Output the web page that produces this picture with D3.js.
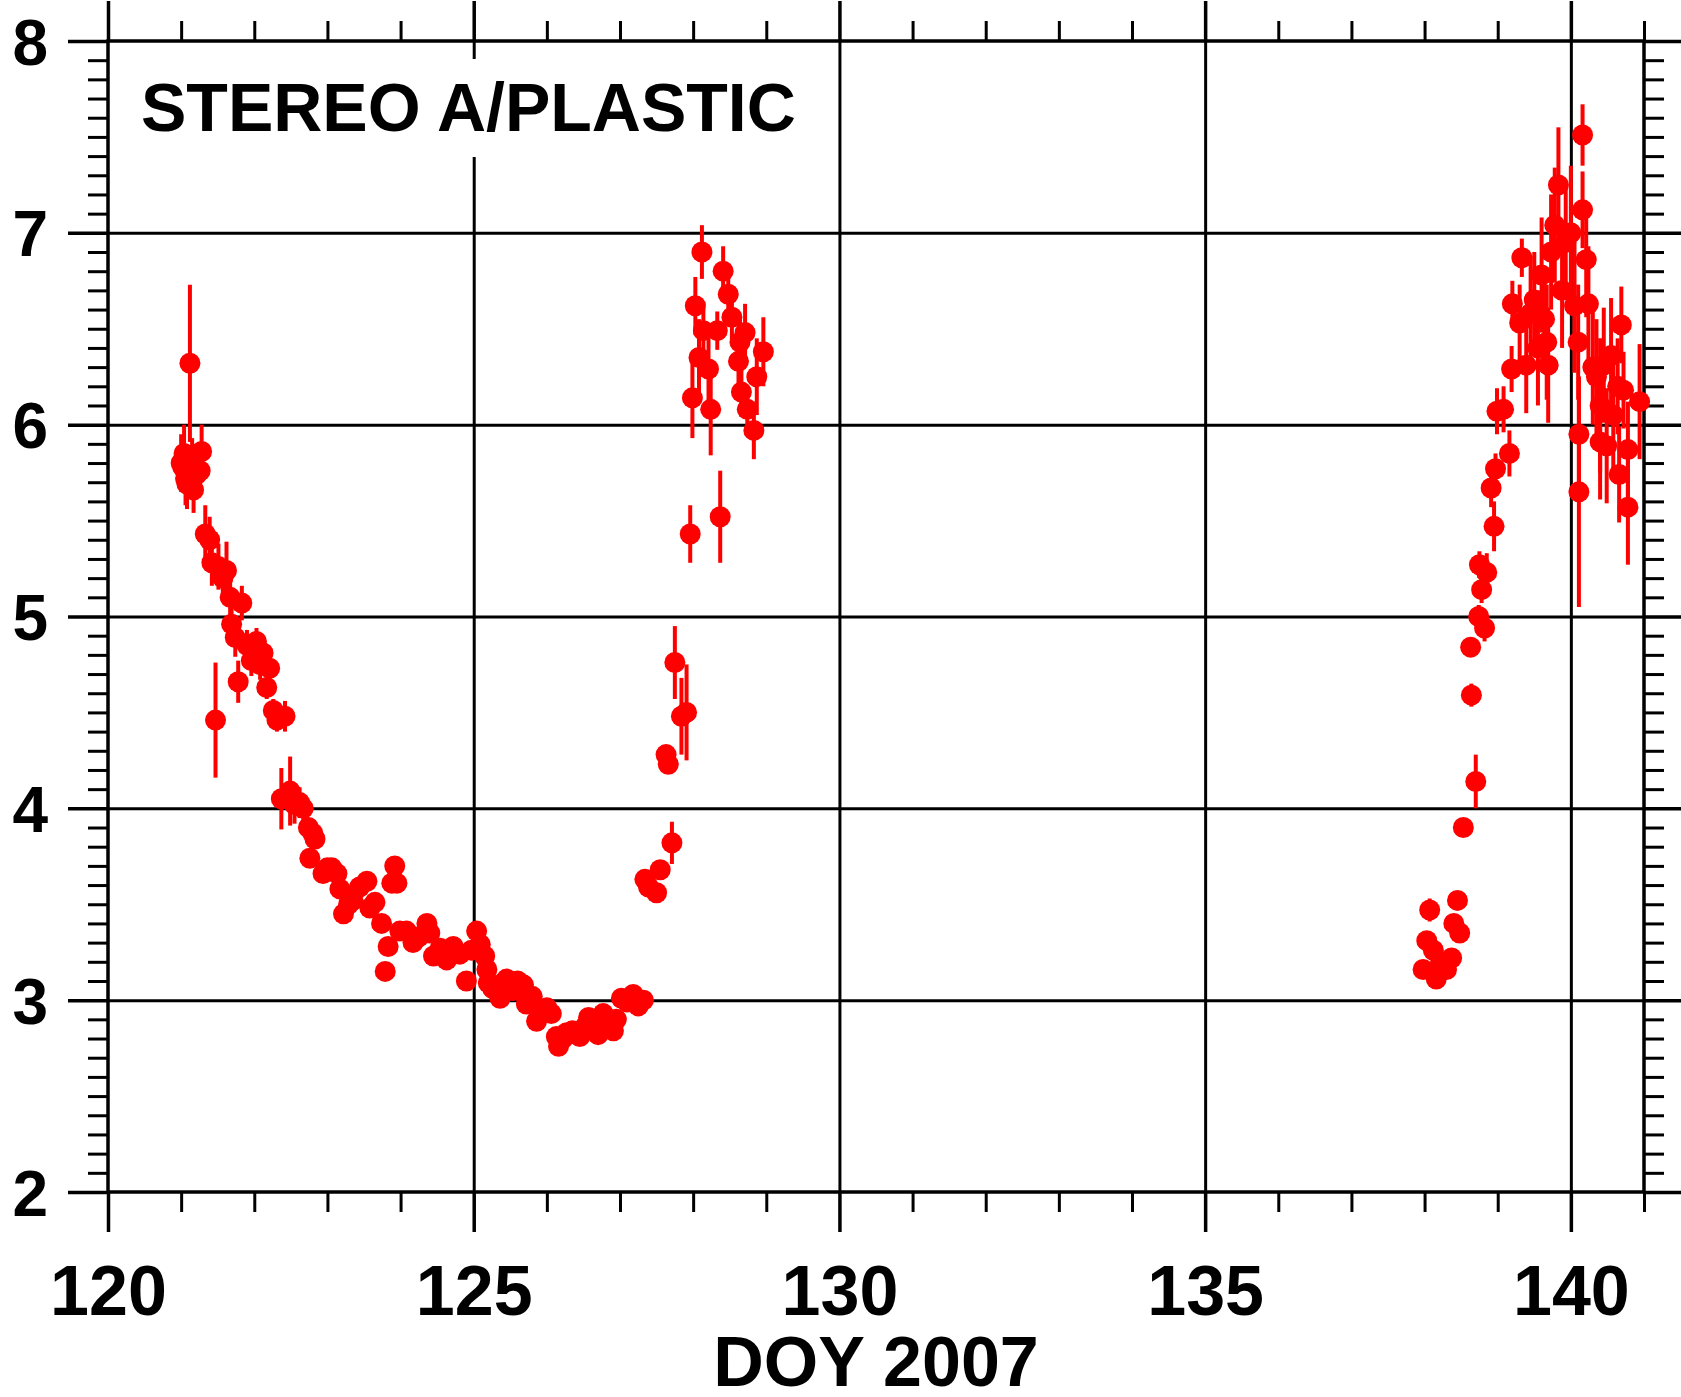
<!DOCTYPE html>
<html>
<head>
<meta charset="utf-8">
<script src="https://cdn.jsdelivr.net/npm/d3@7"></script>
<style>
  body { margin: 0; background: #fff; }
  text { font-family: "Liberation Sans", Arial, sans-serif; font-weight: bold; fill: #000; }
  .domain { display: none; }
</style>
</head>
<body>
<div id="chart"></div>
<script>

// day of year, value, error
var doy = [
  121.00, 121.02, 121.04, 121.06, 121.08, 121.10, 121.12, 121.15, 121.17, 121.21,
  121.26, 121.28, 121.33, 121.39, 121.42, 121.47, 121.51, 121.57, 121.62, 121.67,
  121.69, 121.74, 121.78, 121.83, 121.90, 121.96, 122.03, 122.08, 122.12, 122.17,
  122.21, 122.26, 122.31, 122.37, 122.42, 122.49, 122.55, 122.62, 122.67, 122.74,
  122.76, 122.80, 122.83, 122.94, 123.00, 123.06, 123.13, 123.17, 123.22, 123.29,
  123.35, 123.44, 123.54, 123.58, 123.65, 123.74, 123.79, 123.83, 123.88, 123.92,
  123.95, 123.99, 124.08, 124.17, 124.25, 124.36, 124.40, 124.45, 124.54, 124.63,
  124.72, 124.81, 124.90, 124.97, 125.04, 125.09, 125.15, 125.18, 125.20, 125.26,
  125.31, 125.36, 125.40, 125.45, 125.50, 125.54, 125.60, 125.68, 125.72, 125.80,
  125.86, 125.93, 126.00, 126.06, 126.13, 126.16, 126.22, 126.27, 126.35, 126.45,
  126.52, 126.57, 126.63, 126.70, 126.77, 126.84, 126.91, 126.95, 127.02, 127.10,
  127.18, 127.25, 127.32,
  127.34, 127.39, 127.50, 127.55, 127.63, 127.66, 127.71, 127.75, 127.84, 127.91,
  127.96, 127.99, 128.03, 128.08, 128.12, 128.14, 128.21, 128.24, 128.33, 128.37,
  128.41, 128.48, 128.53, 128.62, 128.64, 128.66, 128.71, 128.74, 128.83, 128.87,
  128.96,
  137.98, 138.03, 138.07, 138.12, 138.16, 138.22, 138.30, 138.37, 138.40, 138.45,
  138.48, 138.53, 138.63, 138.64, 138.70, 138.74, 138.75, 138.78, 138.82, 138.85,
  138.91, 138.95, 138.97, 138.99, 139.08, 139.16, 139.19, 139.20, 139.30, 139.33,
  139.39, 139.45, 139.50, 139.55, 139.60, 139.64, 139.67, 139.69, 139.73, 139.78,
  139.83, 139.88, 139.93, 140.00, 140.05, 140.10, 140.11, 140.11, 140.16, 140.16,
  140.21, 140.24, 140.30, 140.35, 140.40, 140.40, 140.45, 140.49, 140.55, 140.58,
  140.64, 140.66, 140.69, 140.72, 140.78, 140.78, 140.94
];

var value = [
  5.80, 5.78, 5.85, 5.72, 5.69, 5.76, 6.32, 5.78, 5.66, 5.74,
  5.76, 5.86, 5.43, 5.40, 5.28, 4.46, 5.26, 5.20, 5.24, 5.10,
  4.96, 4.89, 4.66, 5.07, 4.85, 4.77, 4.87, 4.75, 4.81, 4.63,
  4.73, 4.51, 4.46, 4.05, 4.48, 4.09, 4.02, 4.03, 4.00, 3.90,
  3.74, 3.87, 3.84, 3.66, 3.69, 3.69, 3.66, 3.58, 3.45, 3.50,
  3.52, 3.59, 3.62, 3.48, 3.51, 3.40, 3.15, 3.28, 3.61, 3.70,
  3.61, 3.36, 3.36, 3.30, 3.33, 3.40, 3.35, 3.23, 3.27, 3.21,
  3.28, 3.24, 3.10, 3.26, 3.36, 3.29, 3.23, 3.16, 3.09, 3.06,
  3.05, 3.01, 3.09, 3.11, 3.10, 3.05, 3.10, 3.08, 2.98, 3.02,
  2.89, 2.95, 2.96, 2.93, 2.81, 2.76, 2.80, 2.83, 2.84, 2.81,
  2.86, 2.91, 2.86, 2.82, 2.93, 2.88, 2.84, 2.90, 3.01, 2.99,
  3.03, 2.97, 3.00,
  3.63, 3.59, 3.56, 3.68, 4.28, 4.23, 3.82, 4.76, 4.48, 4.50,
  5.43, 6.14, 6.62, 6.35, 6.90, 6.49, 6.29, 6.08, 6.49, 5.52,
  6.80, 6.68, 6.56, 6.33, 6.43, 6.17, 6.48, 6.08, 5.97, 6.25,
  6.38,
  3.16, 3.31, 3.47, 3.26, 3.11, 3.20, 3.16, 3.22, 3.40, 3.52,
  3.35, 3.90, 4.84, 4.59, 4.14, 5.00, 5.27, 5.14, 4.94, 5.23,
  5.67, 5.47, 5.77, 6.07, 6.08, 5.85, 6.29, 6.63, 6.53, 6.87,
  6.31, 6.58, 6.65, 6.40, 6.78, 6.55, 6.43, 6.31, 6.90, 7.04,
  7.25, 6.70, 6.95, 7.00, 6.62, 6.43, 5.95, 5.65, 7.51, 7.12,
  6.86, 6.63, 6.30, 6.25, 6.10, 5.91, 6.31, 5.89, 6.36, 6.05,
  6.20, 5.74, 6.52, 6.18, 5.87, 5.57, 6.12
];

var err = [
  0.15, 0.12, 0.15, 0.14, 0.13, 0.12, 0.41, 0.15, 0.12, 0.13,
  0.12, 0.14, 0.15, 0.12, 0.12, 0.30, 0.12, 0.10, 0.15, 0.10,
  0.10, 0.10, 0.11, 0.09, 0.08, 0.08, 0.07, 0.08, 0.07, 0.06,
  0.06, 0.06, 0.06, 0.16, 0.08, 0.18, 0.10, 0.08, 0.06, 0.05,
  0.04, 0.05, 0.04, 0.03, 0.03, 0.03, 0.03, 0.03, 0.03, 0.03,
  0.03, 0.03, 0.03, 0.03, 0.03, 0.03, 0.03, 0.03, 0.03, 0.03,
  0.03, 0.03, 0.03, 0.03, 0.03, 0.03, 0.03, 0.03, 0.03, 0.03,
  0.03, 0.03, 0.03, 0.03, 0.03, 0.03, 0.03, 0.03, 0.03, 0.03,
  0.03, 0.03, 0.03, 0.03, 0.03, 0.03, 0.03, 0.03, 0.03, 0.03,
  0.03, 0.03, 0.03, 0.03, 0.03, 0.03, 0.03, 0.03, 0.03, 0.03,
  0.03, 0.03, 0.03, 0.03, 0.03, 0.03, 0.03, 0.03, 0.03, 0.03,
  0.03, 0.03, 0.03,
  0.03, 0.03, 0.03, 0.03, 0.05, 0.05, 0.11, 0.19, 0.20, 0.25,
  0.15, 0.21, 0.15, 0.20, 0.14, 0.15, 0.20, 0.24, 0.10, 0.24,
  0.13, 0.12, 0.12, 0.15, 0.12, 0.13, 0.15, 0.12, 0.15, 0.20,
  0.18,
  0.05, 0.05, 0.06, 0.05, 0.04, 0.04, 0.04, 0.04, 0.04, 0.04,
  0.04, 0.04, 0.05, 0.06, 0.14, 0.06, 0.07, 0.07, 0.07, 0.10,
  0.10, 0.13, 0.08, 0.12, 0.12, 0.12, 0.12, 0.12, 0.20, 0.10,
  0.25, 0.30, 0.25, 0.30, 0.30, 0.25, 0.30, 0.30, 0.30, 0.30,
  0.30, 0.30, 0.30, 0.35, 0.35, 0.30, 0.30, 0.60, 0.16, 0.20,
  0.30, 0.30, 0.30, 0.30, 0.35, 0.30, 0.30, 0.30, 0.30, 0.30,
  0.25, 0.25, 0.20, 0.20, 0.25, 0.30, 0.30
];

var xMajor = [120, 125, 130, 135, 140];
var yMajor = [2, 3, 4, 5, 6, 7, 8];
var title = "STEREO A/PLASTIC";
var xTitle = "DOY 2007";

var W = 1681, H = 1397;
var margin = { top: 41, right: 37, bottom: 205, left: 108 },
    width = W - margin.left - margin.right,
    height = H - margin.top - margin.bottom;

var svg = d3.select("#chart").append("svg")
    .attr("width", W)
    .attr("height", H)
  .append("g")
    .attr("transform", "translate(" + margin.left + "," + margin.top + ")");

var x = d3.scaleLinear().domain([120, 141]).range([0, width]);
var y = d3.scaleLinear().domain([2, 8]).range([height, 0]);

var xMinor = d3.range(121, 142).filter(function(d) { return xMajor.indexOf(d) < 0; });
var yMinor = d3.range(20, 81).map(function(d) { return d / 10; })
    .filter(function(d) { return Math.abs(d - Math.round(d)) > 1e-6; });

// grid lines
svg.append("g").attr("class", "grid")
    .call(d3.axisBottom(x).tickValues([125, 130, 135, 140]).tickSize(height).tickFormat(""))
    .selectAll("line").attr("stroke", "#000").attr("stroke-width", 3);
svg.append("g").attr("class", "grid")
    .call(d3.axisLeft(y).tickValues([3, 4, 5, 6, 7]).tickSize(-width).tickFormat(""))
    .selectAll("line").attr("stroke", "#000").attr("stroke-width", 3);

// title with white box behind it
svg.append("rect")
    .attr("x", 22).attr("y", 18)
    .attr("width", 690).attr("height", 98)
    .attr("fill", "#fff");
svg.append("text")
    .attr("x", 33).attr("y", 90)
    .style("font-size", "68px")
    .text(title);

// ticks on all four sides
function tickAxis(axis, vals, size, sw, tr) {
  var g = svg.append("g")
      .attr("transform", tr || null)
      .call(axis.tickValues(vals).tickSize(size).tickFormat(""));
  g.selectAll("line").attr("stroke", "#000").attr("stroke-width", sw);
  return g;
}
tickAxis(d3.axisBottom(x), xMinor, 20, 3, "translate(0," + height + ")");
tickAxis(d3.axisBottom(x), xMajor, 40, 3.5, "translate(0," + height + ")");
tickAxis(d3.axisTop(x), xMinor, 20, 3, null);
tickAxis(d3.axisTop(x), xMajor, 40, 3.5, null);
tickAxis(d3.axisLeft(y), yMinor, 20, 3, null);
tickAxis(d3.axisLeft(y), yMajor, 40, 3.5, null);
tickAxis(d3.axisRight(y), yMinor, 20, 3, "translate(" + width + ",0)");
tickAxis(d3.axisRight(y), yMajor, 40, 3.5, "translate(" + width + ",0)");

// frame
svg.append("rect")
    .attr("width", width).attr("height", height)
    .attr("fill", "none").attr("stroke", "#000").attr("stroke-width", 3.5);

// tick labels
var xl = svg.append("g")
    .attr("transform", "translate(0," + height + ")")
    .call(d3.axisBottom(x).tickValues(xMajor).tickSize(0).tickFormat(d3.format("d")));
xl.selectAll("line").remove();
xl.selectAll("text")
    .attr("y", 123).attr("dy", null)
    .style("font-size", "70px").style("font-family", "Liberation Sans, Arial, sans-serif")
    .style("font-weight", "bold").attr("fill", "#000");

var yl = svg.append("g")
    .call(d3.axisLeft(y).tickValues(yMajor).tickSize(0).tickFormat(d3.format("d")));
yl.selectAll("line").remove();
yl.selectAll("text")
    .attr("x", -60).attr("dy", "0.36em")
    .style("font-size", "64px").style("font-family", "Liberation Sans, Arial, sans-serif")
    .style("font-weight", "bold").attr("fill", "#000");

svg.append("text")
    .attr("x", width / 2).attr("y", height + 194)
    .attr("text-anchor", "middle")
    .style("font-size", "70px")
    .text(xTitle);

// data: error bars then points
var pts = doy.map(function(d, i) { return { t: d, v: value[i], e: err[i] }; });

svg.append("g").selectAll("line")
    .data(pts)
  .enter().append("line")
    .attr("x1", function(d) { return x(d.t); })
    .attr("x2", function(d) { return x(d.t); })
    .attr("y1", function(d) { return y(d.v - d.e); })
    .attr("y2", function(d) { return y(d.v + d.e); })
    .attr("stroke", "#ff0000")
    .attr("stroke-width", 4);

svg.append("g").selectAll("circle")
    .data(pts)
  .enter().append("circle")
    .attr("cx", function(d) { return x(d.t); })
    .attr("cy", function(d) { return y(d.v); })
    .attr("r", 10.5)
    .attr("fill", "#ff0000");

</script>
</body>
</html>
